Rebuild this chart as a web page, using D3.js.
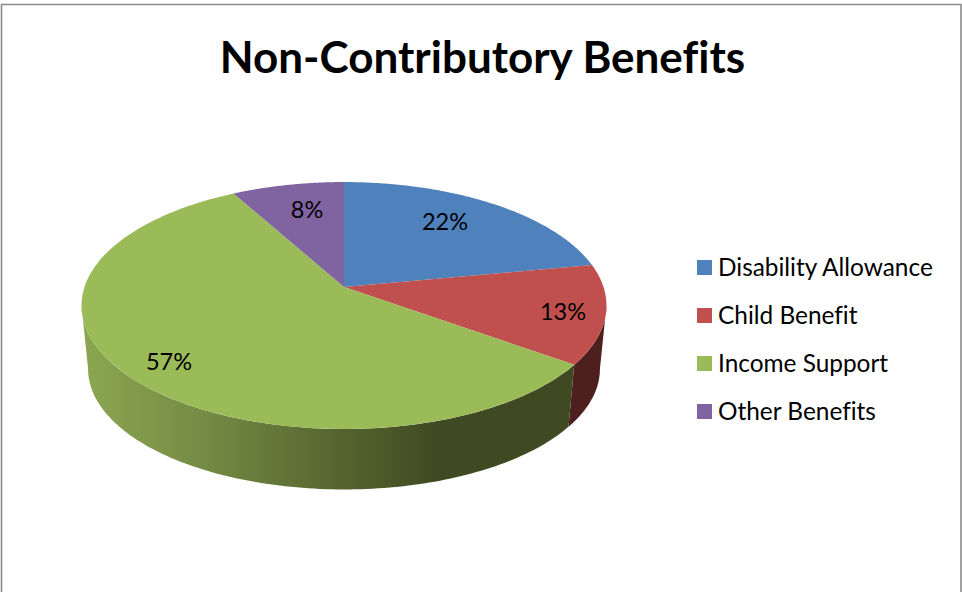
<!DOCTYPE html>
<html>
<head>
<meta charset="utf-8">
<title>Non-Contributory Benefits</title>
<script src="https://cdn.jsdelivr.net/npm/d3@7"></script>
<style>
  html, body { margin: 0; padding: 0; background: #fff; overflow: hidden; }
  svg { display: block; }
  text { font-family: Lato, "Open Sans", sans-serif; fill: #000; font-variant-ligatures: none; }
</style>
</head>
<body>
<script>
// Benefit categories and their share of the total, in percent.
const categories = ["Disability Allowance", "Child Benefit", "Income Support", "Other Benefits"];
const shares = [22, 13, 57, 8];
const topColours = ["#4f81bd", "#c0504d", "#9bbb59", "#8064a2"];

// Where each percentage label sits on the top face.
const labelSpots = [[445, 222], [563, 312], [169, 362], [307, 210]];

// Shading along the outer wall of the largest slice, left to right.
const wallOffsets = [0, 0.24, 0.53, 0.73, 1];
const wallShades = ["#8ba651", "#748c44", "#55642f", "#404a22", "#404a22"];
const darkRed = "#4d1f1e";

const width = 962, height = 592;
const svg = d3.select("body").append("svg").attr("width", width).attr("height", height);

// Chart frame; its lower edge runs off the page.
svg.append("path")
  .attr("d", `M1.5 ${height + 5}V4.5H961V${height + 5}`)
  .attr("fill", "none").attr("stroke", "#8a8a8a").attr("stroke-width", 1.6);

svg.append("text").attr("x", 482.5).attr("y", 72.5)
  .attr("text-anchor", "middle").attr("font-size", 44).attr("font-weight", 700)
  .text("Non-Contributory Benefits");

// A tilted disc seen in perspective: the hub lies above the middle of the outline.
const hubX = 344, topHubY = 287, bottomHubY = 351;
const spreadX = 259.5, spreadY = 120.7, tilt = 0.15, bottomScale = 0.975;

function rimPoint(angle, hubY, scale) {
  const u = Math.sin(angle), v = -Math.cos(angle), d = 1 - tilt * v;
  return [hubX + scale * spreadX * u / d, hubY + scale * spreadY * v / d];
}
function rimAngles(a0, a1) {
  return d3.range(0, 121).map(i => a0 + (a1 - a0) * i / 120);
}

const slices = d3.pie().sort(null).value(d => d)(shares);
const line = d3.line();

// The wall is visible only between the two silhouette points of the outline.
const silhouetteRight = Math.acos(-tilt);
const silhouetteLeft = 2 * Math.PI - silhouetteRight;

const defs = svg.append("defs");
const wallGradient = defs.append("linearGradient").attr("id", "wall-shade")
  .attr("gradientUnits", "userSpaceOnUse")
  .attr("x1", 85).attr("x2", 570).attr("y1", 0).attr("y2", 0);
wallGradient.selectAll("stop").data(wallOffsets).join("stop")
  .attr("offset", d => d)
  .attr("stop-color", (d, i) => wallShades[i]);

const wallFill = ["none", darkRed, "url(#wall-shade)", "none"];

svg.append("g").selectAll("path")
  .data(slices.filter(s => s.endAngle > silhouetteRight && s.startAngle < silhouetteLeft))
  .join("path")
  .attr("fill", d => wallFill[d.index])
  .attr("d", d => {
    const a0 = Math.max(d.startAngle, silhouetteRight);
    const a1 = Math.min(d.endAngle, silhouetteLeft);
    const upper = rimAngles(a0, a1).map(a => rimPoint(a, topHubY, 1));
    const lower = rimAngles(a1, a0).map(a => rimPoint(a, bottomHubY, bottomScale));
    return line(upper.concat(lower)) + "Z";
  });

// Top face of the pie.
svg.append("g").selectAll("path").data(slices).join("path")
  .attr("fill", d => topColours[d.index])
  .attr("d", d => {
    const rim = rimAngles(d.startAngle, d.endAngle).map(a => rimPoint(a, topHubY, 1));
    return line([[hubX, topHubY]].concat(rim)) + "Z";
  });

svg.append("g").selectAll("text").data(slices).join("text")
  .attr("x", d => labelSpots[d.index][0])
  .attr("y", d => labelSpots[d.index][1])
  .attr("dy", "0.35em")
  .attr("text-anchor", "middle").attr("font-size", 23.5)
  .text(d => d.data + "%");

// Legend.
const legendRow = d3.scalePoint().domain(categories).range([267.5, 411.5]);
const legend = svg.append("g").selectAll("g").data(categories).join("g")
  .attr("transform", d => `translate(697,${legendRow(d)})`);
legend.append("rect").attr("y", -7.5).attr("width", 15).attr("height", 15)
  .attr("fill", (d, i) => topColours[i]);
legend.append("text").attr("x", 21).attr("dy", "0.35em").attr("font-size", 24.4).text(d => d);
</script>
</body>
</html>
